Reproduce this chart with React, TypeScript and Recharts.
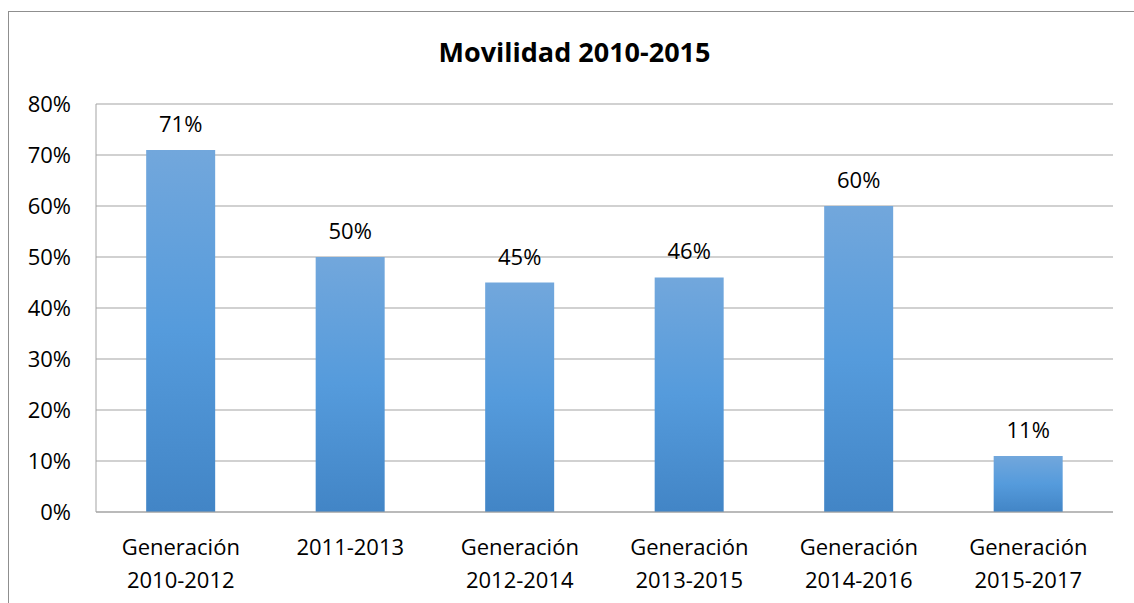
import React from 'react';
import { BarChart, Bar, XAxis, YAxis, CartesianGrid, LabelList } from 'recharts';

const categories = [
  'Generación 2010-2012',
  '2011-2013',
  'Generación 2012-2014',
  'Generación 2013-2015',
  'Generación 2014-2016',
  'Generación 2015-2017',
];
const values = [71, 50, 45, 46, 60, 11];
const yTicks = [0, 10, 20, 30, 40, 50, 60, 70, 80];
const title = 'Movilidad 2010-2015';

const data = categories.map((c, i) => ({ name: c, value: values[i] }));

const FONT = '"Open Sans", sans-serif';

const XTick = (props: any) => {
  const { x, y, payload } = props;
  const parts = String(payload.value).split(' ');
  return (
    <g transform={`translate(${x},${y})`}>
      <text textAnchor="middle" fill="#000" fontSize={22} fontFamily={FONT}>
        {parts.map((p, i) => (
          <tspan key={i} x={0} y={43 + i * 32.5}>
            {p}
          </tspan>
        ))}
      </text>
    </g>
  );
};

export default function App() {
  return (
    <div
      style={{
        position: 'fixed',
        left: 8,
        top: 11,
        width: 1140,
        height: 600,
        borderTop: '1px solid #8f8f8f',
        borderLeft: '1px solid #8f8f8f',
        boxSizing: 'border-box',
        overflow: 'hidden',
        background: '#fff',
      }}
    >
      <div
        style={{
          position: 'absolute',
          left: 0,
          width: 1131,
          top: 25,
          textAlign: 'center',
          fontFamily: FONT,
          fontWeight: 700,
          fontSize: 27,
          lineHeight: '30px',
          color: '#000',
        }}
      >
        {title}
      </div>
      <BarChart
        width={1117}
        height={583}
        data={data}
        margin={{ top: 92, right: 13, left: 0, bottom: 3 }}
        barCategoryGap="29.6%"
      >
        <defs>
          <linearGradient id="barGrad" x1="0" y1="0" x2="0" y2="1">
            <stop offset="0%" stopColor="#72a7dc" />
            <stop offset="50%" stopColor="#559bdc" />
            <stop offset="100%" stopColor="#4285c6" />
          </linearGradient>
        </defs>
        <CartesianGrid vertical={false} stroke="#a3a3a3" strokeWidth={1} />
        <XAxis
          dataKey="name"
          height={80}
          tickLine={false}
          tickSize={0}
          tickMargin={0}
          axisLine={{ stroke: '#a3a3a3' }}
          tick={<XTick />}
          interval={0}
        />
        <YAxis
          width={87}
          domain={[0, 80]}
          ticks={yTicks}
          tickFormatter={(v: number) => `${v}%`}
          tickLine={false}
          tickSize={0}
          tickMargin={25}
          axisLine={{ stroke: '#a3a3a3' }}
          tick={{ fill: '#000', fontSize: 22, fontFamily: FONT }}
        />
        <Bar dataKey="value" fill="url(#barGrad)" isAnimationActive={false}>
          <LabelList
            dataKey="value"
            position="top"
            offset={18}
            formatter={(v: any) => `${v}%`}
            fill="#000"
            fontSize={22}
            fontFamily={FONT}
          />
        </Bar>
      </BarChart>
    </div>
  );
}
